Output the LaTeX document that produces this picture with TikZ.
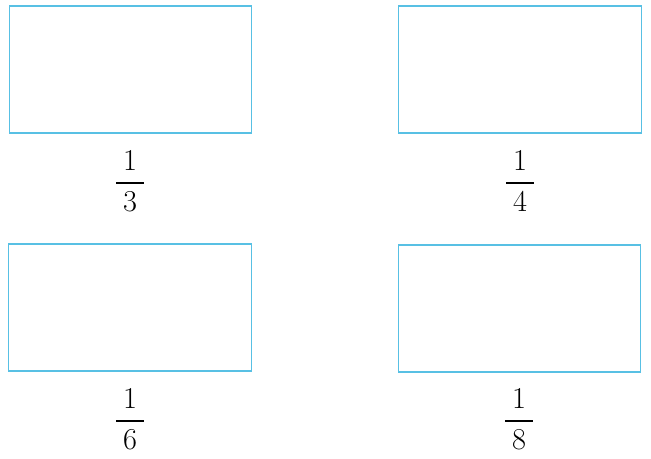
\documentclass[tikz,border=0pt]{standalone}
\usepackage{amsmath}
\usepackage{xcolor}
\usepackage{tikz}
\usetikzlibrary{positioning}
\definecolor{boxcyan}{RGB}{88,192,228}

\begin{document}
\begin{tikzpicture}[x=0.02cm, y=-0.02cm,
  part/.style={rectangle, draw=boxcyan, line width=0.7pt, minimum width=4.85cm, minimum height=2.54cm, inner sep=0pt},
  frac/.style={inner sep=0pt, font=\LARGE}]
\useasboundingbox (0,0) rectangle (651,458);
\node[part] (third) at (130.5,69.5) {};
\node[part] (fourth) at (520,69.5) {};
\node[part] (sixth) at (130,307.5) {};
\node[part] (eighth) at (519.5,308.5) {};

\node[frac] (lthird) at (130,181) {$\dfrac{\mkern4mu1\mkern4mu}{\mkern4mu3\mkern4mu}$};
\node[frac] (lfourth) at (520,181) {$\dfrac{\mkern4mu1\mkern4mu}{\mkern4mu4\mkern4mu}$};
\node[frac] (lsixth) at (130,419) {$\dfrac{\mkern4mu1\mkern4mu}{\mkern4mu6\mkern4mu}$};
\node[frac] (leighth) at (519,419) {$\dfrac{\mkern4mu1\mkern4mu}{\mkern4mu8\mkern4mu}$};
\end{tikzpicture}
\end{document}
